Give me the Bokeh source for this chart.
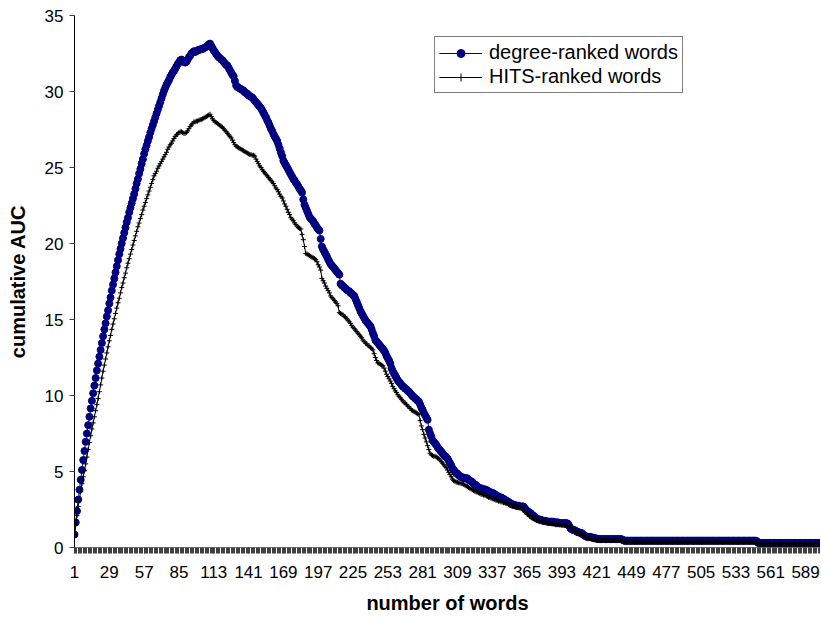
from bokeh.plotting import figure
from bokeh.models import Range1d, FixedTicker
from bokeh.embed import file_html
from bokeh.resources import INLINE

SERIES_NAMES = ["degree-ranked words", "HITS-ranked words"]
XTICKS = [1, 29, 57, 85, 113, 141, 169, 197, 225, 253, 281, 309, 337, 365,
          393, 421, 449, 477, 505, 533, 561, 589]
YTICKS = [0, 5, 10, 15, 20, 25, 30, 35]
N_WORDS = 600

DEGREE = [
    0.85, 1.65, 2.4, 3.15, 3.8, 4.45, 5.1, 5.75, 6.35, 6.95, 7.5, 8.05, 8.6, 9.15, 9.65, 10.15,
    10.65, 11.15, 11.65, 12.1, 12.55, 13.0, 13.45, 13.9, 14.35, 14.75, 15.2, 15.6, 16.05, 16.45, 16.9, 17.3,
    17.7, 18.1, 18.5, 18.9, 19.3, 19.65, 20.0, 20.35, 20.7,
    21.05, 21.4, 21.7, 22.05, 22.35, 22.65, 22.95, 23.25,
    23.6, 23.95, 24.25, 24.6, 24.9, 25.25, 25.55, 25.9,
    26.2, 26.45, 26.75, 27.0, 27.3, 27.55, 27.8, 28.05,
    28.3, 28.55, 28.8, 29.05, 29.3, 29.55, 29.8, 30.05,
    30.25, 30.45, 30.6, 30.75, 30.95, 31.1, 31.25, 31.35,
    31.5, 31.65, 31.8, 31.9, 32.05,
    32.1, 32.05, 31.95, 31.9, 31.95, 32.1,
    32.25, 32.35, 32.5, 32.55, 32.65, 32.6, 32.65, 32.7, 32.75, 32.75,
    32.8, 32.8, 32.85, 32.9, 32.95, 33.0, 33.1, 33.15,
    33.0, 32.85, 32.7, 32.6, 32.45, 32.35, 32.25, 32.2, 32.1, 32.05, 31.95,
    31.85, 31.75, 31.7, 31.55, 31.4, 31.25, 31.1, 31.0, 30.7, 30.4,
    30.3, 30.25, 30.2, 30.15, 30.1, 30.05,
    29.95, 29.9, 29.85, 29.75, 29.7, 29.65, 29.6, 29.5,
    29.4, 29.3, 29.2, 29.1, 29.0, 28.9,
    28.75, 28.6, 28.45, 28.3, 28.1, 27.95,
    27.75, 27.55, 27.4, 27.2, 27.05, 26.9, 26.75,
    26.5, 26.25, 26.0, 25.75, 25.45,
    25.3, 25.15, 25.0, 24.85, 24.7, 24.55, 24.4, 24.25,
    24.15, 24.0, 23.9, 23.75, 23.6, 23.5, 23.35,
    22.9, 22.55,
    22.35, 22.15, 21.95, 21.75,
    21.65, 21.55, 21.45, 21.3, 21.2, 21.05, 20.95, 20.85,
    20.3, 19.8,
    19.6, 19.45, 19.3, 19.15, 18.95, 18.8, 18.65,
    18.55, 18.45, 18.35, 18.25, 18.15, 18.05, 17.95,
    17.35,
    17.25, 17.2, 17.1, 17.05, 16.95, 16.9, 16.85, 16.75, 16.7, 16.6, 16.55,
    16.35, 16.15, 15.95, 15.75, 15.55, 15.4, 15.25,
    15.1, 14.95, 14.85, 14.75, 14.65, 14.55,
    14.35, 14.1, 13.9, 13.65,
    13.55, 13.45, 13.35, 13.25, 13.15, 13.05, 12.95,
    12.8, 12.6, 12.45, 12.3, 12.1,
    11.8, 11.6, 11.45,
    11.3, 11.15, 11.0, 10.9, 10.8,
    10.7, 10.6, 10.55, 10.45, 10.4, 10.3, 10.25, 10.15,
    10.05, 9.95, 9.9, 9.8, 9.75, 9.65, 9.6,
    9.4, 9.2, 9.05,
    8.85, 8.7, 8.55, 8.4,
    7.75,
    7.5, 7.3, 7.05,
    6.95, 6.85, 6.75, 6.6, 6.5,
    6.4, 6.3, 6.2, 6.1, 6.0, 5.95, 5.85,
    5.7, 5.55, 5.4, 5.2,
    5.1, 5.0, 4.9, 4.85, 4.75, 4.7, 4.65,
    4.6, 4.6, 4.55, 4.55, 4.55,
    4.45, 4.4, 4.35, 4.3, 4.2, 4.15, 4.1, 4.0,
    3.95, 3.9, 3.9, 3.85, 3.85, 3.8, 3.8,
    3.75, 3.7, 3.65, 3.6, 3.6, 3.55,
    3.5, 3.45, 3.4, 3.35, 3.3, 3.3, 3.25,
    3.2, 3.15, 3.1, 3.05, 3.0, 2.95, 2.9, 2.85, 2.8,
    2.8, 2.75, 2.75, 2.75, 2.7, 2.7, 2.7, 2.7,
    2.6, 2.5, 2.4, 2.35, 2.3, 2.25,
    2.15, 2.1, 2.0, 1.95, 1.9, 1.85, 1.85, 1.8,
    1.8, 1.75, 1.75, 1.75, 1.7, 1.7, 1.7, 1.7, 1.7, 1.7,
    1.65, 1.65, 1.65, 1.65, 1.6, 1.6, 1.6, 1.6, 1.6, 1.6, 1.6,
    1.55, 1.4, 1.25, 1.2, 1.15, 1.15,
    1.1, 1.05, 1.0, 1.0, 0.95, 0.95,
    0.85, 0.8, 0.75,
    0.7, 0.7, 0.7, 0.7, 0.65, 0.65,
    0.6, 0.6, 0.6, 0.55, 0.55,
    0.55, 0.55, 0.55, 0.55, 0.55, 0.55, 0.55, 0.55, 0.55,
    0.55, 0.55, 0.55, 0.55, 0.55, 0.55, 0.55, 0.55, 0.55,
    0.5,
    0.45, 0.45, 0.45, 0.45, 0.45, 0.45, 0.45, 0.45, 0.45, 0.45,
    0.45, 0.45, 0.45, 0.45, 0.45, 0.45, 0.45, 0.45, 0.45, 0.45,
    0.45, 0.45, 0.45, 0.45, 0.45, 0.45, 0.45, 0.45, 0.45, 0.45,
    0.45, 0.45, 0.45, 0.45, 0.45, 0.45, 0.45, 0.45, 0.45, 0.45,
    0.45, 0.45, 0.45, 0.45, 0.45, 0.45, 0.45, 0.45, 0.45, 0.45,
    0.45, 0.45, 0.45, 0.45, 0.45, 0.45, 0.45, 0.45, 0.45, 0.45,
    0.45, 0.45, 0.45, 0.45, 0.45, 0.45, 0.45, 0.45, 0.45, 0.45,
    0.45, 0.45, 0.45, 0.45, 0.45, 0.45, 0.45, 0.45, 0.45, 0.45,
    0.45, 0.45, 0.45, 0.45, 0.45, 0.45, 0.45, 0.45, 0.45, 0.45,
    0.45, 0.45, 0.45, 0.45, 0.45, 0.45, 0.45, 0.45, 0.45, 0.45,
    0.45, 0.45, 0.45, 0.45, 0.45, 0.45, 0.45,
    0.4,
    0.3, 0.3, 0.3, 0.3, 0.3, 0.3, 0.3, 0.3, 0.3, 0.3,
    0.3, 0.3, 0.3, 0.3, 0.3, 0.3, 0.3, 0.3, 0.3, 0.3,
    0.3, 0.3, 0.3, 0.3, 0.3, 0.3, 0.3, 0.3, 0.3, 0.3,
    0.3, 0.3, 0.3, 0.3, 0.3, 0.3, 0.3, 0.3, 0.3, 0.3,
    0.3, 0.3, 0.3, 0.3, 0.3, 0.3, 0.3, 0.3, 0.3, 0.3,
]

HITS = [
    0.85, 1.5, 2.1, 2.7, 3.2, 3.7, 4.2, 4.65, 5.05, 5.5,
    5.95, 6.45, 6.9, 7.35, 7.8, 8.2, 8.6, 9.0, 9.4, 9.8,
    10.25, 10.7, 11.15, 11.6, 12.0, 12.4, 12.8, 13.2, 13.6, 13.95, 14.35,
    14.7, 15.05, 15.4, 15.75, 16.1, 16.4, 16.75, 17.1, 17.4, 17.75, 18.05, 18.4, 18.7, 19.0, 19.3, 19.6, 19.9, 20.2,
    20.5, 20.8, 21.1, 21.35, 21.65, 21.9, 22.2, 22.45,
    22.7, 22.95, 23.2, 23.45, 23.7, 23.95, 24.2, 24.45,
    24.6, 24.75, 24.95, 25.1, 25.25, 25.4, 25.55,
    25.7, 25.85, 26.0, 26.2, 26.35,
    26.5, 26.6, 26.75, 26.9, 27.05,
    27.15, 27.2, 27.3, 27.35, 27.35, 27.3,
    27.25, 27.25, 27.3, 27.4,
    27.55, 27.7, 27.8, 27.9, 28.0,
    28.0, 28.05, 28.05, 28.1, 28.15,
    28.15, 28.2, 28.25, 28.3, 28.35, 28.4, 28.45, 28.5,
    28.35, 28.2, 28.1, 28.0,
    27.95, 27.9, 27.85, 27.75, 27.7, 27.65,
    27.55, 27.45, 27.35, 27.25, 27.15, 27.05, 26.95,
    26.8, 26.65, 26.5, 26.4, 26.35,
    26.3, 26.25, 26.2, 26.15, 26.1, 26.05, 26.0, 25.95,
    25.9, 25.85, 25.85, 25.8, 25.8, 25.75,
    25.55, 25.4, 25.25, 25.1, 25.0,
    24.85, 24.75, 24.65, 24.55, 24.45,
    24.35, 24.25, 24.15, 24.05, 23.95,
    23.8, 23.65, 23.55, 23.4, 23.25, 23.1, 23.0,
    22.8, 22.6, 22.45, 22.25, 22.05, 21.9, 21.7,
    21.6, 21.5, 21.35, 21.25, 21.15, 21.05, 21.0, 20.95,
    20.6, 20.25, 19.8, 19.35,
    19.3, 19.25, 19.2, 19.15, 19.1, 19.05, 19.0, 18.95,
    18.8, 18.6, 18.45, 18.25, 17.7,
    17.55, 17.4, 17.2, 17.05, 16.9, 16.75, 16.55,
    16.45, 16.35, 16.25, 16.15, 16.05, 15.9,
    15.45,
    15.4, 15.35, 15.3, 15.2, 15.15, 15.05, 14.95,
    14.85, 14.75, 14.6, 14.5, 14.4, 14.3, 14.2, 14.1,
    14.0, 13.9, 13.8, 13.65, 13.55, 13.45,
    13.4, 13.3, 13.25, 13.15, 13.1, 13.0,
    12.75, 12.5, 12.3, 12.15,
    12.1, 12.05, 12.0, 11.95,
    11.8, 11.6, 11.4, 11.25,
    11.1, 10.95, 10.8, 10.6, 10.45,
    10.3, 10.2, 10.05, 9.95, 9.85, 9.75, 9.65,
    9.55, 9.5, 9.4, 9.3, 9.25, 9.15, 9.05,
    9.0, 8.95, 8.9, 8.85, 8.8, 8.75,
    8.35, 8.0, 7.75, 7.45,
    7.2, 6.95, 6.7, 6.45, 6.2, 6.1,
    6.05, 6.0, 6.0, 5.95, 5.9, 5.85,
    5.75, 5.65, 5.55, 5.45, 5.35, 5.25, 5.1,
    4.95, 4.8, 4.65, 4.5, 4.4, 4.35,
    4.3, 4.3, 4.25, 4.25, 4.2, 4.2, 4.15,
    4.1, 4.05, 4.0, 3.95, 3.9, 3.85, 3.8, 3.75,
    3.7, 3.65, 3.65, 3.6, 3.55, 3.5, 3.5, 3.45, 3.45, 3.4,
    3.35, 3.3, 3.3, 3.25, 3.2, 3.2, 3.15, 3.1, 3.1,
    3.05, 3.05, 3.0, 3.0, 2.95, 2.95, 2.9, 2.9,
    2.85, 2.8, 2.8, 2.75, 2.75, 2.7, 2.7, 2.7, 2.65, 2.65, 2.65,
    2.55, 2.45, 2.35, 2.3, 2.2, 2.15, 2.05, 2.0,
    1.95, 1.9, 1.9, 1.85, 1.85, 1.8, 1.8, 1.8,
    1.75, 1.7, 1.7, 1.65, 1.65, 1.6, 1.6, 1.6, 1.55, 1.55,
    1.55, 1.5, 1.5, 1.5, 1.5, 1.5, 1.45, 1.45, 1.45, 1.45, 1.45, 1.45, 1.45, 1.4,
    1.3, 1.2, 1.1, 1.05, 1.0,
    0.95, 0.9, 0.9, 0.85,
    0.8, 0.75, 0.7,
    0.65, 0.65, 0.6, 0.6, 0.6, 0.6,
    0.55, 0.55, 0.5, 0.5, 0.5,
    0.47, 0.47, 0.47, 0.47, 0.47, 0.47, 0.47, 0.47, 0.47,
    0.47, 0.47, 0.47, 0.47, 0.47, 0.47, 0.47, 0.47, 0.47,
    0.42,
    0.36, 0.36, 0.36, 0.36, 0.36, 0.36, 0.36, 0.36, 0.36, 0.36,
    0.36, 0.36, 0.36, 0.36, 0.36, 0.36, 0.36, 0.36, 0.36, 0.36,
    0.36, 0.36, 0.36, 0.36, 0.36, 0.36, 0.36, 0.36, 0.36, 0.36,
    0.36, 0.36, 0.36, 0.36, 0.36, 0.36, 0.36, 0.36, 0.36, 0.36,
    0.36, 0.36, 0.36, 0.36, 0.36, 0.36, 0.36, 0.36, 0.36, 0.36,
    0.36, 0.36, 0.36, 0.36, 0.36, 0.36, 0.36, 0.36, 0.36, 0.36,
    0.36, 0.36, 0.36, 0.36, 0.36, 0.36, 0.36, 0.36, 0.36, 0.36,
    0.36, 0.36, 0.36, 0.36, 0.36, 0.36, 0.36, 0.36, 0.36, 0.36,
    0.36, 0.36, 0.36, 0.36, 0.36, 0.36, 0.36, 0.36, 0.36, 0.36,
    0.36, 0.36, 0.36, 0.36, 0.36, 0.36, 0.36, 0.36, 0.36, 0.36,
    0.36, 0.36, 0.36, 0.36, 0.36, 0.36, 0.36,
    0.3,
    0.2, 0.2, 0.2, 0.2, 0.2, 0.2, 0.2, 0.2, 0.2, 0.2,
    0.2, 0.2, 0.2, 0.2, 0.2, 0.2, 0.2, 0.2, 0.2, 0.2,
    0.2, 0.2, 0.2, 0.2, 0.2, 0.2, 0.2, 0.2, 0.2, 0.2,
    0.2, 0.2, 0.2, 0.2, 0.2, 0.2, 0.2, 0.2, 0.2, 0.2,
    0.2, 0.2, 0.2, 0.2, 0.2, 0.2, 0.2, 0.2, 0.2, 0.2,
]

cats_d = list(range(1, len(DEGREE) + 1))
cats_h = list(range(1, len(HITS) + 1))

FONT = "Liberation Sans"
NAVY = "#000080"

p = figure(width=820, height=616, output_backend="svg", toolbar_location=None,
           x_range=Range1d(1, 601), y_range=Range1d(0, 35),
           min_border_left=74, min_border_right=0, min_border_top=15, min_border_bottom=68)
p.background_fill_color = "white"
p.border_fill_color = "white"
p.outline_line_color = None
p.xgrid.grid_line_color = None
p.ygrid.grid_line_color = None

# x axis
xa = p.xaxis[0]
xa.ticker = FixedTicker(ticks=XTICKS, minor_ticks=list(range(1, N_WORDS + 1)))
xa.axis_line_color = "#808080"
xa.major_tick_line_color = "#404040"
xa.minor_tick_line_color = "#404040"
xa.major_tick_out = 6
xa.major_tick_in = 0
xa.minor_tick_out = 6
xa.minor_tick_in = 0
xa.major_label_standoff = 12
xa.major_label_text_font = FONT
xa.major_label_text_font_size = "17px"
xa.major_label_text_color = "black"
xa.axis_label = "number of words"
xa.axis_label_text_font = FONT
xa.axis_label_text_font_size = "20px"
xa.axis_label_text_font_style = "bold"
xa.axis_label_text_color = "black"
xa.axis_label_standoff = 11

# y axis
ya = p.yaxis[0]
ya.ticker = FixedTicker(ticks=YTICKS, minor_ticks=[])
ya.axis_line_color = "black"
ya.major_tick_line_color = "#404040"
ya.major_tick_out = 5
ya.major_tick_in = 0
ya.minor_tick_out = 0
ya.minor_tick_in = 0
ya.major_label_standoff = 6
ya.major_label_text_font = FONT
ya.major_label_text_font_size = "17px"
ya.major_label_text_color = "black"
ya.axis_label = "cumulative AUC"
ya.axis_label_text_font = FONT
ya.axis_label_text_font_size = "20px"
ya.axis_label_text_font_style = "bold"
ya.axis_label_text_color = "black"
ya.axis_label_standoff = 13

# degree-ranked series
p.line(cats_d, DEGREE, line_color=NAVY, line_width=1, legend_label=SERIES_NAMES[0])
p.scatter(cats_d, DEGREE, marker="circle", size=7, fill_color=NAVY, line_color=NAVY,
          legend_label=SERIES_NAMES[0])

# HITS-ranked series
p.line(cats_h, HITS, line_color="black", line_width=1, legend_label=SERIES_NAMES[1])
p.scatter(cats_h, HITS, marker="cross", size=5, line_color="black", line_width=1,
          legend_label=SERIES_NAMES[1])

lg = p.legend[0]
lg.location = (360, 454)
lg.margin = 0
lg.padding = 4
lg.spacing = 1
lg.glyph_width = 43
lg.glyph_height = 20
lg.label_height = 20
lg.label_standoff = 7
lg.label_text_font = FONT
lg.label_text_font_size = "20px"
lg.label_text_color = "black"
lg.border_line_color = "black"
lg.border_line_width = 1
lg.background_fill_color = "white"
lg.background_fill_alpha = 1.0

open("out.html", "w").write(file_html(p, INLINE))
